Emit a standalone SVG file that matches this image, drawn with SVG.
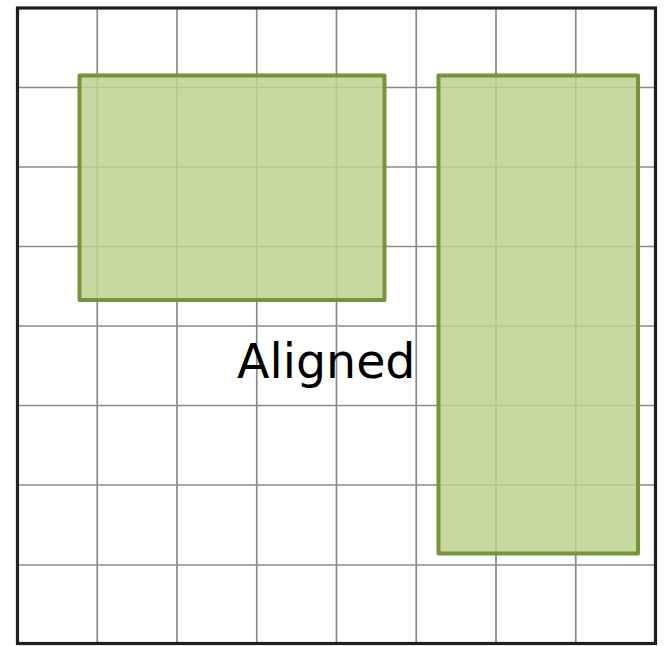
<svg xmlns="http://www.w3.org/2000/svg" width="666" height="646" viewBox="0 0 666 646">
<style>
.grid{stroke:#8a8a8a;stroke-width:1.7;fill:none}
.box{fill:#bdd291;fill-opacity:0.85;stroke:#77933c;stroke-width:4;stroke-linejoin:round}
.lbl{font-family:"DejaVu Sans",sans-serif;font-size:47.5px;fill:#000}
</style>
<rect width="666" height="646" fill="#fff"/>
<g id="grid" class="grid">
<path d="M97.25 8V643.5M177 8V643.5M256.75 8V643.5M336.5 8V643.5M416.25 8V643.5M496 8V643.5M575.75 8V643.5"/>
<path d="M17.5 87.5H655.5M17.5 167H655.5M17.5 246.5H655.5M17.5 326H655.5M17.5 405.5H655.5M17.5 485H655.5M17.5 565H655.5"/>
</g>
<rect id="border" x="17.5" y="8" width="638" height="635.5" fill="none" stroke="#1e1e1e" stroke-width="3.2"/>
<g id="rect1"><rect class="box" x="79.5" y="75.5" width="305" height="224.5"/></g>
<g id="rect2"><rect class="box" x="438.5" y="75.5" width="199.5" height="478"/></g>
<g id="label"><text class="lbl" x="237" y="378">Aligned</text></g>
</svg>
